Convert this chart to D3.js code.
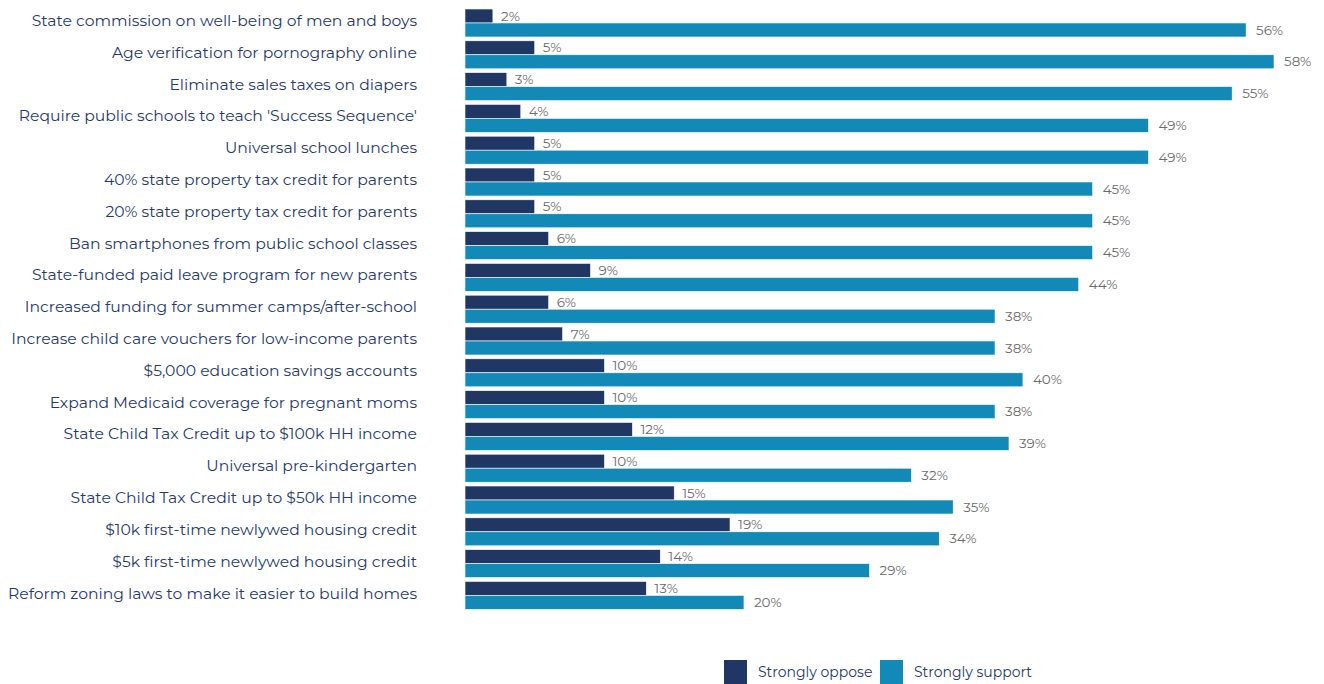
<!DOCTYPE html>
<html>
<head>
<meta charset="utf-8">
<script src="https://cdn.jsdelivr.net/npm/d3@7"></script>
<style>
  html, body { margin: 0; padding: 0; background: #fff; }
  svg { display: block; }
</style>
</head>
<body>
<svg id="chart" width="1324" height="684"></svg>
<script>
// Policy proposals, top to bottom
const policies = [
  "State commission on well-being of men and boys",
  "Age verification for pornography online",
  "Eliminate sales taxes on diapers",
  "Require public schools to teach 'Success Sequence'",
  "Universal school lunches",
  "40% state property tax credit for parents",
  "20% state property tax credit for parents",
  "Ban smartphones from public school classes",
  "State-funded paid leave program for new parents",
  "Increased funding for summer camps/after-school",
  "Increase child care vouchers for low-income parents",
  "$5,000 education savings accounts",
  "Expand Medicaid coverage for pregnant moms",
  "State Child Tax Credit up to $100k HH income",
  "Universal pre-kindergarten",
  "State Child Tax Credit up to $50k HH income",
  "$10k first-time newlywed housing credit",
  "$5k first-time newlywed housing credit",
  "Reform zoning laws to make it easier to build homes"
];

// Share of respondents (%)
const stronglyOppose = [2, 5, 3, 4, 5, 5, 5, 6, 9, 6, 7, 10, 10, 12, 10, 15, 19, 14, 13];
const stronglySupport = [56, 58, 55, 49, 49, 45, 45, 45, 44, 38, 38, 40, 38, 39, 32, 35, 34, 29, 20];

const seriesNames = ["Strongly oppose", "Strongly support"];
const seriesColors = ["#213763", "#1289b7"];

const svg = d3.select("#chart");
const font = "Montserrat, 'Open Sans', 'DejaVu Sans', sans-serif";

const x = d3.scaleLinear().domain([0, 58]).range([465, 1274]);
const y = d3.scaleBand().domain(policies).range([9, 609.4]).paddingInner(0.12).paddingOuter(0);
const sub = d3.scaleBand().domain(seriesNames).range([0, y.bandwidth()]);

const rows = policies.map((p, i) => ({
  policy: p,
  values: [stronglyOppose[i], stronglySupport[i]]
}));

// Category labels
svg.append("g")
  .selectAll("text")
  .data(policies)
  .join("text")
  .attr("x", 417)
  .attr("y", d => y(d) + y.bandwidth() / 2 - 1)
  .attr("text-anchor", "end")
  .attr("dominant-baseline", "middle")
  .attr("font-family", font)
  .attr("font-size", 15.6)
  .attr("fill", "#26396a")
  .text(d => d);

// Bar groups
const groups = svg.append("g")
  .selectAll("g")
  .data(rows)
  .join("g")
  .attr("transform", d => `translate(0,${y(d.policy)})`);

groups.selectAll("rect")
  .data(d => d.values.map((v, j) => ({ v, s: seriesNames[j], j })))
  .join("rect")
  .attr("x", x(0))
  .attr("y", d => sub(d.s))
  .attr("width", d => x(d.v) - x(0))
  .attr("height", sub.bandwidth())
  .attr("fill", d => seriesColors[d.j])
  .attr("stroke", "#fff")
  .attr("stroke-width", 0.6);

groups.selectAll("text")
  .data(d => d.values.map((v, j) => ({ v, s: seriesNames[j], j })))
  .join("text")
  .attr("x", d => x(d.v) + (d.j === 0 ? 8 : 10))
  .attr("y", d => sub(d.s) + sub.bandwidth() / 2 + 1)
  .attr("dominant-baseline", "middle")
  .attr("font-family", font)
  .attr("font-size", 13.5)
  .attr("fill", "#6b6b6b")
  .text(d => d.v + "%");

// Legend
const legend = svg.append("g");
const legendX = [724, 880];
seriesNames.forEach((name, i) => {
  legend.append("rect")
    .attr("x", legendX[i])
    .attr("y", 660)
    .attr("width", 23)
    .attr("height", 24)
    .attr("fill", seriesColors[i]);
  legend.append("text")
    .attr("x", legendX[i] + 34)
    .attr("y", 673)
    .attr("dominant-baseline", "middle")
    .attr("font-family", font)
    .attr("font-size", 14)
    .attr("fill", "#26396a")
    .text(name);
});
</script>
</body>
</html>
